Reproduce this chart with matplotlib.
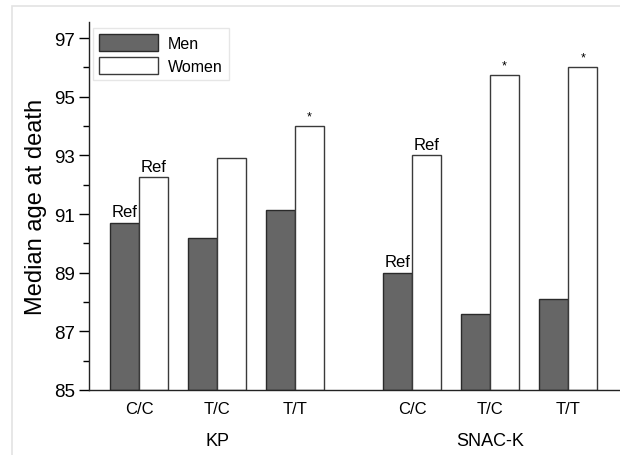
import matplotlib
matplotlib.use("Agg")
import matplotlib.pyplot as plt
from matplotlib.patches import Rectangle
from matplotlib.ticker import FixedLocator

plt.rcParams['font.family'] = ['Liberation Sans', 'DejaVu Sans']

genotypes = ["C/C", "T/C", "T/T", "C/C", "T/C", "T/T"]
groups = ["KP", "SNAC-K"]
men = [90.7, 90.2, 91.15, 89.0, 87.6, 88.1]
women = [92.25, 92.9, 94.0, 93.0, 95.75, 96.0]
men_marks = ["Ref", "", "", "Ref", "", ""]
women_marks = ["Ref", "", "*", "Ref", "*", "*"]
positions = [0, 1, 2, 3.5, 4.5, 5.5]
group_centers = [1, 4.5]
yticks = [85, 87, 89, 91, 93, 95, 97]

fig = plt.figure(figsize=(6.2, 4.56), dpi=100)
fig.patches.append(Rectangle((12/620, -0.1), 1.2, 1 - 7/456 + 0.1, transform=fig.transFigure,
                             fill=False, edgecolor='#e3e3e3', linewidth=1.2))
ax = fig.add_axes([89/620, 1 - 391/456, 530/620, (391 - 23)/456])

w = 0.37
base = 85
mh = [v - base for v in men]
wh = [v - base for v in women]
xm = [p - w/2 for p in positions]
xw = [p + w/2 for p in positions]
ax.bar(xm, mh, width=w, bottom=base, color='#666666', edgecolor='#2a2a2a', linewidth=1.0, label='Men')
ax.bar(xw, wh, width=w, bottom=base, color='white', edgecolor='#3a3a3a', linewidth=1.0, label='Women')

for x, v, m in zip(xm, men, men_marks):
    if m:
        ax.text(x, v + 0.12, m, ha='center', va='bottom', fontsize=12 if m == 'Ref' else 9)
for x, v, m in zip(xw, women, women_marks):
    if m:
        ax.text(x, v + 0.12, m, ha='center', va='bottom', fontsize=12 if m == 'Ref' else 9)

ax.set_ylim(85, 97.55)
ax.set_xlim(-0.64, 6.15)
ax.yaxis.set_major_locator(FixedLocator(yticks))
ax.yaxis.set_minor_locator(FixedLocator([t + 1 for t in yticks[:-1]]))
ax.set_xticks(positions)
ax.set_xticklabels(genotypes, fontsize=12)
ax.tick_params(axis='x', length=0, pad=8)
ax.tick_params(axis='y', which='major', length=7, width=1, labelsize=13.5, pad=3)
ax.tick_params(axis='y', which='minor', length=4, width=1)
for s in ['top', 'right']:
    ax.spines[s].set_visible(False)
for s in ['left', 'bottom']:
    ax.spines[s].set_linewidth(1.0)
    ax.spines[s].set_color('#222222')

for gc, g in zip(group_centers, groups):
    ax.text(gc, -0.115, g, transform=ax.get_xaxis_transform(), ha='center', va='top', fontsize=13)

ax.set_ylabel("Median age at death", fontsize=17, labelpad=5)

leg = ax.legend(loc='upper left', bbox_to_anchor=(4/530, 1 - 6/368), fontsize=11.5,
                frameon=True, fancybox=False, edgecolor='#e0e0e0', handlelength=3.7,
                handleheight=1.2, borderpad=0.4, labelspacing=0.4, handletextpad=0.6,
                borderaxespad=0)
leg.get_frame().set_linewidth(1.0)

fig.savefig("out.png", dpi=100)
